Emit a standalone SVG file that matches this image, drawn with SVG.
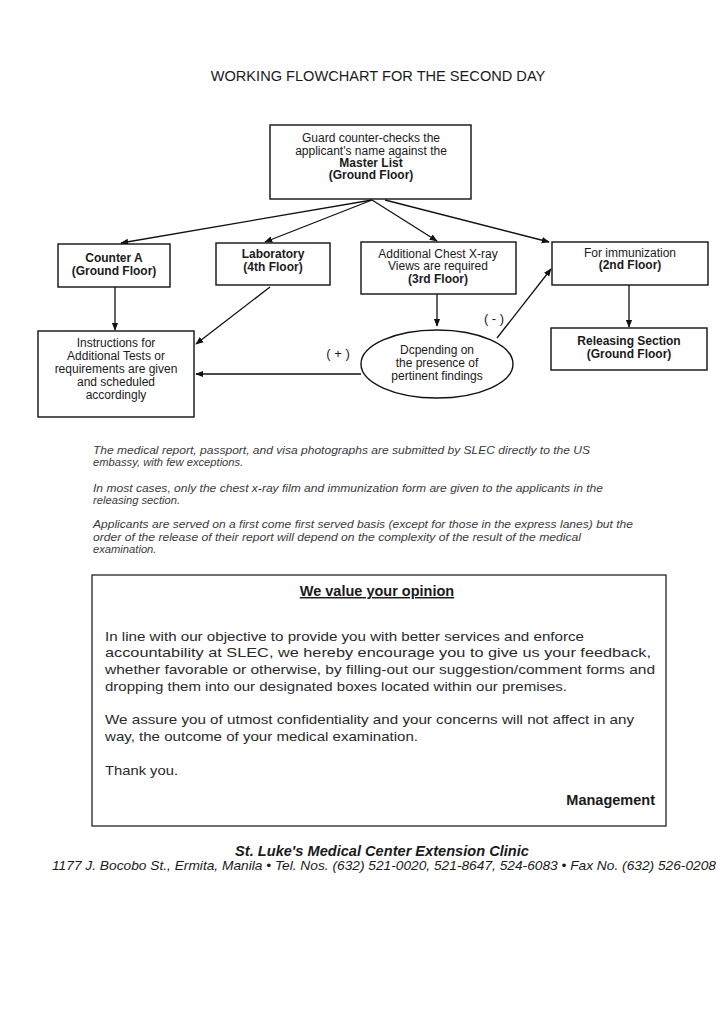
<svg xmlns="http://www.w3.org/2000/svg" width="724" height="1024" viewBox="0 0 724 1024">
<style>
text{font-family:"Liberation Sans",Arial,sans-serif;fill:#1a1a1a}
.box{fill:#fff;stroke:#111;stroke-width:1.4}
.n{font-size:12px;text-anchor:middle}
.b{font-weight:bold}
.ln{stroke:#111;stroke-width:1.3;fill:none}
.note{font-size:11.2px;font-style:italic;fill:#3a3a3a}
.body{font-size:13.6px;fill:#2a2a2a}
</style>
<defs>
<marker id="ah" viewBox="0 0 10 10" refX="9" refY="5" markerWidth="8" markerHeight="8" orient="auto" markerUnits="userSpaceOnUse">
<path d="M0,1 L10,5 L0,9 Z" fill="#111"/>
</marker>
</defs>
<rect width="724" height="1024" fill="#fff"/>
<text x="378" y="81" text-anchor="middle" font-size="14.6">WORKING FLOWCHART FOR THE SECOND DAY</text>

<g id="connectors">
<line class="ln" x1="372" y1="200" x2="121" y2="243" marker-end="url(#ah)"/>
<line class="ln" x1="372" y1="200" x2="265" y2="242" marker-end="url(#ah)"/>
<line class="ln" x1="372" y1="200" x2="437" y2="241" marker-end="url(#ah)"/>
<line class="ln" x1="385" y1="200" x2="549" y2="242" marker-end="url(#ah)"/>
<line class="ln" x1="115" y1="287" x2="115" y2="330" marker-end="url(#ah)"/>
<line class="ln" x1="270" y1="287" x2="196" y2="344" marker-end="url(#ah)"/>
<line class="ln" x1="437" y1="294" x2="437" y2="326" marker-end="url(#ah)"/>
<line class="ln" x1="361" y1="374" x2="196" y2="374" marker-end="url(#ah)"/>
<line class="ln" x1="497" y1="338" x2="551" y2="269" marker-end="url(#ah)"/>
<line class="ln" x1="629" y1="285" x2="629" y2="327" marker-end="url(#ah)"/>
<text x="338" y="358" text-anchor="middle" font-size="13" xml:space="preserve">( + )</text>
<text x="494" y="323" text-anchor="middle" font-size="13" xml:space="preserve">( - )</text>
</g>

<g id="guard">
<rect class="box" x="270" y="125" width="201" height="74"/>
<text class="n" x="371" y="142">Guard counter-checks the</text>
<text class="n" x="371" y="155">applicant's name against the</text>
<text class="n b" x="371" y="167">Master List</text>
<text class="n b" x="371" y="179">(Ground Floor)</text>
</g>

<g id="counterA">
<rect class="box" x="58" y="244" width="112" height="43"/>
<text class="n b" x="114" y="262">Counter A</text>
<text class="n b" x="114" y="275">(Ground Floor)</text>
</g>

<g id="laboratory">
<rect class="box" x="216" y="243" width="114" height="42"/>
<text class="n b" x="273" y="258">Laboratory</text>
<text class="n b" x="273" y="271">(4th Floor)</text>
</g>

<g id="xray">
<rect class="box" x="361" y="242" width="155" height="52"/>
<text class="n" x="438" y="258">Additional Chest X-ray</text>
<text class="n" x="438" y="270">Views are required</text>
<text class="n b" x="438" y="283">(3rd Floor)</text>
</g>

<g id="immunization">
<rect class="box" x="552" y="242" width="156" height="43"/>
<text class="n" x="630" y="257">For immunization</text>
<text class="n b" x="630" y="269">(2nd Floor)</text>
</g>

<g id="releasing">
<rect class="box" x="551" y="328" width="156" height="42"/>
<text class="n b" x="629" y="345">Releasing Section</text>
<text class="n b" x="629" y="358">(Ground Floor)</text>
</g>

<g id="instructions">
<rect class="box" x="38" y="331" width="156" height="86"/>
<text class="n" x="116" y="347" font-size="11.5">Instructions for</text>
<text class="n" x="116" y="360" font-size="11.5">Additional Tests or</text>
<text class="n" x="116" y="373" font-size="11.5">requirements are given</text>
<text class="n" x="116" y="386" font-size="11.5">and scheduled</text>
<text class="n" x="116" y="399" font-size="11.5">accordingly</text>
</g>

<g id="decision">
<ellipse cx="437" cy="364" rx="76" ry="34" fill="#fff" stroke="#111" stroke-width="1.4"/>
<text class="n" x="437" y="354" font-size="11">Dcpending on</text>
<text class="n" x="437" y="367" font-size="11">the presence of</text>
<text class="n" x="437" y="380" font-size="11">pertinent findings</text>
</g>

<g id="notes">
<text class="note" x="93" y="454" textLength="497" lengthAdjust="spacingAndGlyphs">The medical report, passport, and visa photographs are submitted by SLEC directly to the US</text>
<text class="note" x="93" y="466">embassy, with few exceptions.</text>
<text class="note" x="93" y="492" textLength="510" lengthAdjust="spacingAndGlyphs">In most cases, only the chest x-ray film and immunization form are given to the applicants in the</text>
<text class="note" x="93" y="504">releasing section.</text>
<text class="note" x="93" y="528" textLength="540" lengthAdjust="spacingAndGlyphs">Applicants are served on a first come first served basis (except for those in the express lanes) but the</text>
<text class="note" x="93" y="541" textLength="488" lengthAdjust="spacingAndGlyphs">order of the release of their report will depend on the complexity of the result of the medical</text>
<text class="note" x="93" y="553">examination.</text>
</g>

<g id="feedback">
<rect x="92" y="575" width="574" height="251" fill="#fff" stroke="#111" stroke-width="1.2"/>
<text x="377" y="596" text-anchor="middle" font-size="14.5" font-weight="bold" text-decoration="underline">We value your opinion</text>
<text class="body" x="105" y="641" textLength="479" lengthAdjust="spacingAndGlyphs">In line with our objective to provide you with better services and enforce</text>
<text class="body" x="105" y="657" textLength="546" lengthAdjust="spacingAndGlyphs">accountability at SLEC, we hereby encourage you to give us your feedback,</text>
<text class="body" x="105" y="674" textLength="550" lengthAdjust="spacingAndGlyphs">whether favorable or otherwise, by filling-out our suggestion/comment forms and</text>
<text class="body" x="105" y="691" textLength="462" lengthAdjust="spacingAndGlyphs">dropping them into our designated boxes located within our premises.</text>
<text class="body" x="105" y="724" textLength="529" lengthAdjust="spacingAndGlyphs">We assure you of utmost confidentiality and your concerns will not affect in any</text>
<text class="body" x="105" y="741" textLength="313" lengthAdjust="spacingAndGlyphs">way, the outcome of your medical examination.</text>
<text class="body" x="105" y="775" textLength="73" lengthAdjust="spacingAndGlyphs">Thank you.</text>
<text x="655" y="805" text-anchor="end" font-size="14.5" font-weight="bold" fill="#222">Management</text>
</g>

<g id="footer">
<text x="382" y="856" text-anchor="middle" font-size="14.6" font-weight="bold" font-style="italic">St. Luke's Medical Center Extension Clinic</text>
<text x="52" y="870" font-size="13" font-style="italic" fill="#333" textLength="664" lengthAdjust="spacingAndGlyphs">1177 J. Bocobo St., Ermita, Manila • Tel. Nos. (632) 521-0020,  521-8647,  524-6083  • Fax No. (632) 526-0208</text>
</g>
</svg>
